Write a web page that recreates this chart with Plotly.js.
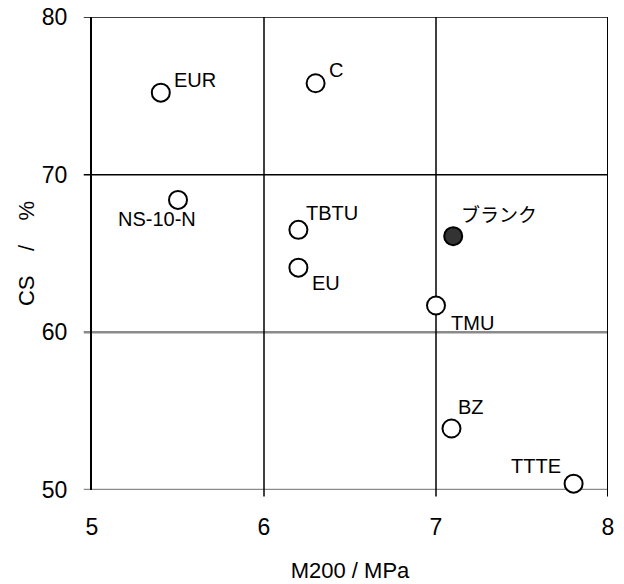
<!DOCTYPE html>
<html>
<head>
<meta charset="utf-8">
<script src="https://cdn.plot.ly/plotly-3.0.1.min.js"></script>
<style>html,body{margin:0;padding:0;background:#fff;}#chart{width:624px;height:584px;}</style>
</head>
<body>
<div id="chart"></div>
<script>
// Data
const sampleNames = ["EUR", "C", "NS-10-N", "TBTU", "EU", "ブランク", "TMU", "BZ", "TTTE"];
const m200 = [5.40, 6.30, 5.50, 6.20, 6.20, 7.10, 7.00, 7.09, 7.80];
const cs = [75.2, 75.8, 68.4, 66.5, 64.1, 66.1, 61.7, 53.9, 50.4];
const isBlank = [false, false, false, false, false, true, false, false, false];
const xTicks = [5, 6, 7, 8];
const yTicks = [50, 60, 70, 80];

// label placement (pixel offsets from marker)
const labelPlacement = {
  "EUR": {xs: 11, ys: 12, xa: "left"},
  "C": {xs: 11, ys: 12, xa: "left"},
  "NS-10-N": {xs: -21, ys: -20, xa: "center"},
  "TBTU": {xs: 6, ys: 16, xa: "left"},
  "EU": {xs: 12, ys: -16, xa: "left"},
  "ブランク": {xs: 6, ys: 22, xa: "left"},
  "TMU": {xs: 13, ys: -18, xa: "left"},
  "BZ": {xs: 5, ys: 21, xa: "left"},
  "TTTE": {xs: -11, ys: 17, xa: "right"}
};

const font = "Liberation Sans, Arial, sans-serif";

const traces = [{
  type: "scatter",
  mode: "markers",
  x: m200,
  y: cs,
  cliponaxis: false,
  marker: {
    size: 18,
    color: isBlank.map(b => b ? "#333333" : "rgba(255,255,255,1)"),
    line: {color: "#000", width: 2}
  },
  hoverinfo: "skip"
}];

const annotations = sampleNames.map((n, i) => ({
  x: m200[i], y: cs[i], xref: "x", yref: "y",
  text: n, showarrow: false,
  xanchor: labelPlacement[n].xa, yanchor: "middle",
  xshift: labelPlacement[n].xs, yshift: labelPlacement[n].ys + 1,
  font: {family: n === "ブランク" ? "Noto Sans CJK JP, sans-serif" : font, size: n === "ブランク" ? 19 : 20, color: "#000"}
}));

// gridlines
const shapes = [];
[50, 60].forEach(v => shapes.push({
  type: "line", xref: "paper", yref: "y", x0: -0.016, x1: 1, y0: v, y1: v,
  line: {color: "#8a8a8a", width: 2.5}, layer: "below"
}));
[70, 80].forEach(v => shapes.push({
  type: "line", xref: "paper", yref: "y", x0: -0.016, x1: 1, y0: v, y1: v,
  line: {color: "#000", width: 1.5}, layer: "below"
}));
[6, 7].forEach(v => shapes.push({
  type: "line", xref: "x", yref: "paper", x0: v, x1: v, y0: -0.014, y1: 1,
  line: {color: "#000", width: 1.5}, layer: "below"
}));
shapes.push({
  type: "line", xref: "x", yref: "paper", x0: 8, x1: 8, y0: -0.014, y1: 1,
  line: {color: "#000", width: 2}, layer: "below"
});

const layout = {
  width: 624, height: 584,
  margin: {l: 92, r: 16, t: 17, b: 94},
  paper_bgcolor: "#fff", plot_bgcolor: "#fff",
  showlegend: false,
  xaxis: {
    range: [5, 8], tickvals: xTicks, ticktext: xTicks.map(String),
    showgrid: false, zeroline: false,
    showline: false, ticks: "outside", ticklen: 16, tickcolor: "rgba(0,0,0,0)",
    tickfont: {family: font, size: 23, color: "#000"},
    title: {text: "M200 / MPa", font: {family: font, size: 22, color: "#000"}, standoff: 24}
  },
  yaxis: {
    range: [50, 80], tickvals: yTicks, ticktext: yTicks.map(String),
    showgrid: false, zeroline: false,
    showline: true, linecolor: "#000", linewidth: 2, mirror: false,
    ticks: "outside", ticklen: 8, tickcolor: "rgba(0,0,0,0)", tickwidth: 1.5,
    ticklabelstandoff: 10,
    tickfont: {family: font, size: 23, color: "#000"},
    title: {text: "CS\u00A0\u00A0\u00A0\u00A0/\u00A0\u00A0\u00A0\u00A0%", font: {family: font, size: 22, color: "#000"}, standoff: 1}
  },
  shapes: shapes,
  annotations: annotations
};

Plotly.newPlot("chart", traces, layout, {staticPlot: true, displayModeBar: false});
</script>
</body>
</html>
